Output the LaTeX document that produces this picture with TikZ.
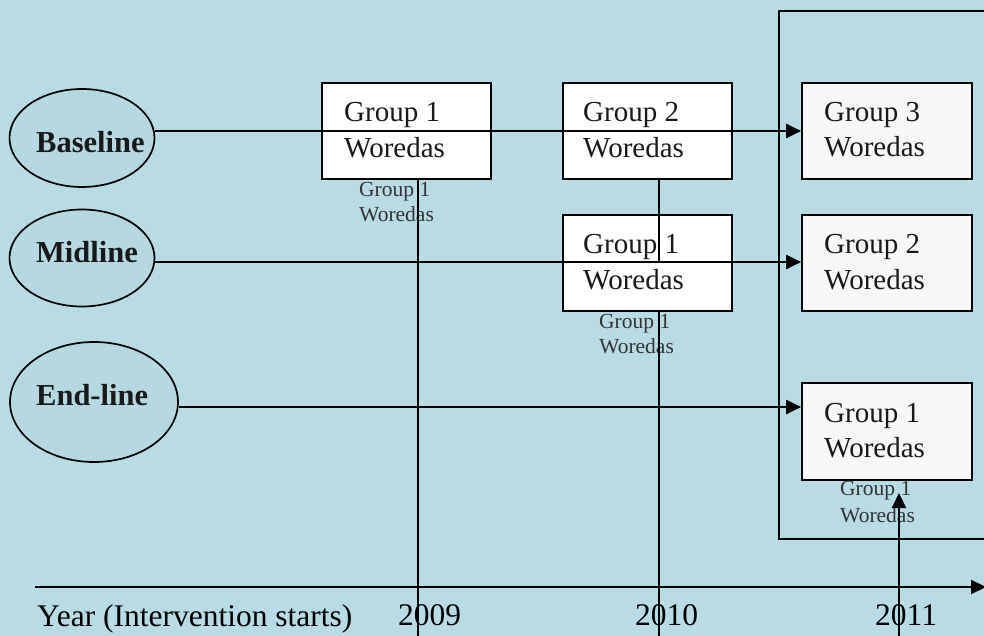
\documentclass[tikz,border=0pt]{standalone}
\usepackage{fontspec}
\setmainfont{Liberation Serif}
\usetikzlibrary{arrows.meta,shapes.geometric}
\definecolor{bgblue}{HTML}{B7DCE6}
\definecolor{ellfill}{HTML}{B4D9E3}
\definecolor{boxgray}{HTML}{F7F7F7}
\definecolor{smallgray}{HTML}{333333}
\tikzset{
  oval/.style={draw=black, line width=1.7pt, fill=ellfill, ellipse, inner sep=0pt},
  wbox/.style={draw=black, line width=1.7pt, fill=white, rectangle, inner sep=0pt, minimum width=169pt, minimum height=96pt},
  gbox/.style={wbox, fill=boxgray},
  boxtxt/.style={anchor=base west, inner sep=0pt, font=\fontsize{29}{34}\selectfont, text=black!90},
  smalltxt/.style={anchor=base west, inner sep=0pt, font=\fontsize{21.5}{25}\selectfont, text=smallgray},
  ovaltxt/.style={anchor=base west, inner sep=0pt, font=\fontsize{30.5}{34}\selectfont\bfseries, text=black!90},
  yeartxt/.style={anchor=base west, inner sep=0pt, font=\fontsize{31.5}{36}\selectfont},
  conn/.style={line width=2.1pt, draw=black},
  arr/.style={conn, -{Triangle[length=15pt,width=14pt]}},
}
\begin{document}
\begin{tikzpicture}[x=1pt,y=-1pt]
\fill[bgblue] (0,0) rectangle (984,636);
\useasboundingbox (0,0) rectangle (984,636);
\clip (0,0) rectangle (984,636);

% big frame on the right
\draw[line width=1.7pt] (1000,11) -- (779,11) -- (779,539) -- (1000,539);

% ellipses
\node[oval, minimum width=145pt, minimum height=98pt] (bl) at (82,138) {};
\node[oval, minimum width=145pt, minimum height=97pt] (ml) at (82,258) {};
\node[oval, minimum width=168pt, minimum height=120pt] (el) at (94,402) {};
\node[ovaltxt] (blt) at (36,153) {Baseline};
\node[ovaltxt] (mlt) at (36,262) {Midline};
\node[ovaltxt] (elt) at (36,405) {End-line};

% boxes
\node[wbox] (b1) at (406.5,131) {};
\node[wbox] (b2) at (647.5,131) {};
\node[wbox] (b3) at (647.5,263) {};
\node[gbox, minimum width=170pt] (c3a) at (887,131) {};
\node[gbox, minimum width=170pt] (c3b) at (887,263) {};
\node[gbox, minimum width=170pt, minimum height=97pt] (c3c) at (887,431.5) {};

% box texts
\node[boxtxt] (b1t1) at (344,122) {Group 1};
\node[boxtxt] (b1t2) at (344,158) {Woredas};
\node[boxtxt] (b2t1) at (583,122) {Group 2};
\node[boxtxt] (b2t2) at (583,158) {Woredas};
\node[boxtxt] (b3t1) at (583,253) {Group 1};
\node[boxtxt] (b3t2) at (583,289) {Woredas};
\node[boxtxt] (c3at1) at (824,122) {Group 3};
\node[boxtxt] (c3at2) at (824,157) {Woredas};
\node[boxtxt] (c3bt1) at (824,254) {Group 2};
\node[boxtxt] (c3bt2) at (824,289) {Woredas};
\node[boxtxt] (c3ct1) at (824,422) {Group 1};
\node[boxtxt] (c3ct2) at (824,457) {Woredas};

% small texts
\node[smalltxt] (s1a) at (359,197) {Group 1};
\node[smalltxt] (s1b) at (359,222) {Woredas};
\node[smalltxt] (s2a) at (599,328) {Group 1};
\node[smalltxt] (s2b) at (599,353) {Woredas};
\node[smalltxt] (s3a) at (840,495) {Group 1};
\node[smalltxt] (s3b) at (840,522) {Woredas};

% horizontal arrows
\draw[arr] ([yshift=7pt]bl.east) -- ([yshift=7pt]bl.east -| c3a.west);
\draw[arr] ([yshift=-4pt]ml.east) -- ([yshift=-4pt]ml.east -| c3b.west);
\draw[arr] ([yshift=-5pt]el.east) -- ([yshift=-5pt]el.east -| c3c.west);

% vertical lines
\coordinate (v1bot) at (418,636);
\coordinate (v2mid) at (659,263);
\coordinate (v2bot) at (659,636);
\coordinate (v3bot) at (899,640);
\coordinate (v3top) at (899,493);
\draw[conn] (b1.south -| v1bot) -- (v1bot);
\draw[conn] (b2.south -| v2mid) -- (v2mid);
\draw[conn] (b3.south -| v2bot) -- (v2bot);
\draw[arr] (v3bot) -- (v3top);

% time axis
\coordinate (ax0) at (35,587);
\coordinate (ax1) at (986,587);
\draw[arr] (ax0) -- (ax1);

% year labels
\node[yeartxt] (ylab) at (37,626) {Year (Intervention starts)};
\node[yeartxt] (y09) at (398,625) {2009};
\node[yeartxt] (y10) at (635,625) {2010};
\node[yeartxt] (y11) at (875,625) {2011};
\end{tikzpicture}
\end{document}
